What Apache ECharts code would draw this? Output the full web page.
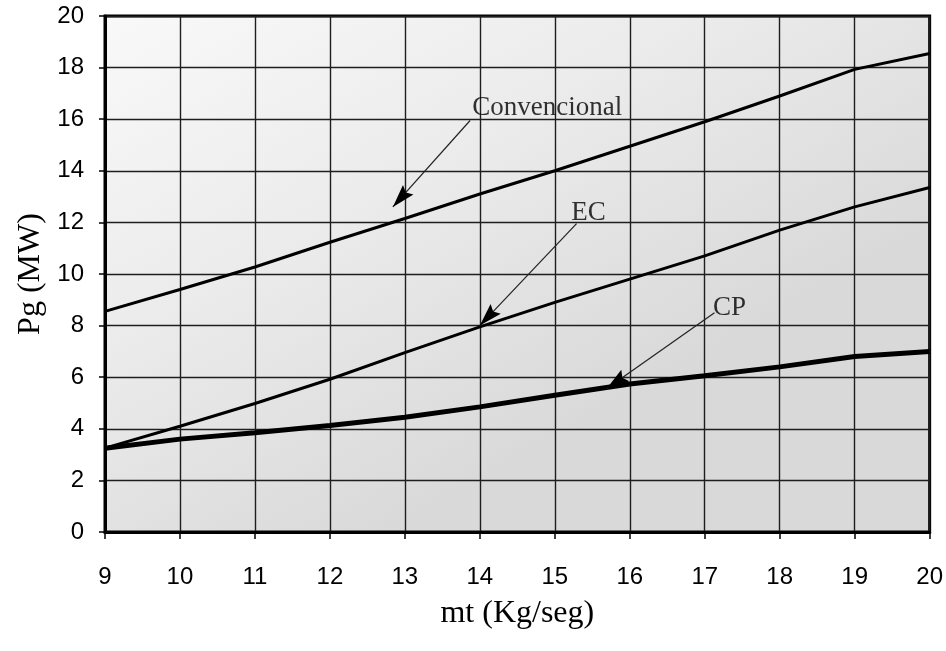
<!DOCTYPE html>
<html>
<head>
<meta charset="utf-8">
<script src="https://cdn.jsdelivr.net/npm/echarts@6/dist/echarts.min.js"></script>
<style>
  html, body { margin: 0; padding: 0; background: #fff; }
  #chart { width: 946px; height: 651px; }
</style>
</head>
<body>
<div id="chart"></div>
<script>
// Mass flow (Kg/seg) on the x axis
const mt = [9, 10, 11, 12, 13, 14, 15, 16, 17, 18, 19, 20];
// Generated power Pg (MW) for each cycle
const convencional = [8.55, 9.4, 10.27, 11.23, 12.15, 13.1, 14.0, 14.95, 15.9, 16.9, 17.93, 18.55];
const ec = [3.25, 4.1, 4.98, 5.92, 6.95, 7.95, 8.9, 9.8, 10.7, 11.7, 12.6, 13.35];
const cp = [3.25, 3.6, 3.85, 4.13, 4.45, 4.85, 5.3, 5.74, 6.06, 6.4, 6.8, 7.0];

// Callout texts, their anchor points and arrow ends (data coordinates)
const calloutNames = ['Convencional', 'EC', 'CP'];
const calloutLabelX = [14.9, 15.45, 17.33];
const calloutLabelY = [16.45, 12.36, 8.7];
const arrowFromX = [13.87, 15.29, 17.13];
const arrowFromY = [15.95, 11.95, 8.5];
const arrowToX = [12.84, 14.0, 15.69];
const arrowToY = [12.6, 8.0, 5.55];

const sansFont = '"Liberation Sans", Arial, sans-serif';
const serifFont = '"Liberation Serif", "Times New Roman", serif';

// Arrowhead: a notched dart pointing up, apex at the top
const HEAD_W = 14, HEAD_H = 23;
const headPath = 'path://M5,0 L10,19 L5,16 L0,19 Z';

function pairs(ys) { return mt.map((x, i) => [x, ys[i]]); }

function shaft(i) {
  return {
    silent: true,
    animation: false,
    symbol: ['none', 'none'],
    label: { show: false },
    lineStyle: { color: '#222', width: 1.2, type: 'solid' },
    emphasis: { disabled: true },
    data: [[
      { coord: [arrowFromX[i], arrowFromY[i]] },
      { coord: [arrowToX[i], arrowToY[i]] }
    ]]
  };
}

function curve(name, ys, width, i) {
  return {
    id: 'curve-' + i,
    name: name,
    type: 'line',
    data: pairs(ys),
    symbol: 'none',
    smooth: false,
    color: '#000',
    lineStyle: { color: '#000', width: width },
    z: 3,
    markLine: shaft(i)
  };
}

const chart = echarts.init(document.getElementById('chart'), null, { renderer: 'canvas' });

chart.setOption({
  animation: false,
  backgroundColor: '#ffffff',
  grid: {
    left: 105, right: 16, top: 16, bottom: 119,
    show: true,
    borderColor: '#000',
    borderWidth: 3,
    backgroundColor: {
      type: 'linear', x: 0, y: 0, x2: 0.35, y2: 1,
      colorStops: [
        { offset: 0, color: '#f9f9f9' },
        { offset: 0.5, color: '#ebebeb' },
        { offset: 1, color: '#d9d9d9' }
      ]
    }
  },
  xAxis: {
    type: 'value',
    min: 9, max: 20, interval: 1,
    name: 'mt (Kg/seg)',
    nameLocation: 'middle',
    nameGap: 66,
    nameTextStyle: { fontFamily: serifFont, fontSize: 32, color: '#000' },
    axisLine: { show: true, onZero: false, lineStyle: { color: '#000', width: 3 } },
    axisTick: { show: true, length: 7, lineStyle: { color: '#000', width: 1.5 } },
    axisLabel: { fontFamily: sansFont, fontSize: 24, color: '#000', margin: 33 },
    splitLine: { show: true, lineStyle: { color: '#1e1e1e', width: 1.4 } }
  },
  yAxis: {
    type: 'value',
    min: 0, max: 20, interval: 2,
    name: 'Pg (MW)',
    nameLocation: 'middle',
    nameGap: 54,
    nameRotate: 90,
    nameTextStyle: { fontFamily: serifFont, fontSize: 32, color: '#000' },
    axisLine: { show: true, onZero: false, lineStyle: { color: '#000', width: 3 } },
    axisTick: { show: true, length: 6, lineStyle: { color: '#000', width: 1.5 } },
    axisLabel: { fontFamily: sansFont, fontSize: 24, color: '#000', margin: 21 },
    splitLine: { show: true, lineStyle: { color: '#1e1e1e', width: 1.4 } }
  },
  series: [
    curve('Convencional', convencional, 3, 0),
    curve('EC', ec, 3, 1),
    curve('CP', cp, 5, 2),
    {
      id: 'callouts',
      name: 'callouts',
      type: 'scatter',
      silent: true,
      symbolSize: 1,
      itemStyle: { color: 'rgba(0,0,0,0)' },
      data: calloutNames.map((n, i) => [calloutLabelX[i], calloutLabelY[i]]),
      label: {
        show: true,
        position: 'inside',
        formatter: (p) => calloutNames[p.dataIndex],
        fontFamily: serifFont,
        fontSize: 27,
        color: '#000'
      },
      z: 5
    },
    {
      id: 'arrowheads',
      name: 'arrowheads',
      type: 'scatter',
      silent: true,
      symbol: headPath,
      symbolSize: [HEAD_W, HEAD_H],
      symbolKeepAspect: false,
      itemStyle: { color: '#000', opacity: 1 },
      data: [],
      z: 6
    }
  ]
});

// Arrowheads: orient each one along its shaft in screen space and
// place it so the apex lands on the arrow's end point.
const heads = calloutNames.map((n, i) => {
  const from = chart.convertToPixel({ gridIndex: 0 }, [arrowFromX[i], arrowFromY[i]]);
  const to = chart.convertToPixel({ gridIndex: 0 }, [arrowToX[i], arrowToY[i]]);
  const dx = to[0] - from[0], dy = to[1] - from[1];
  const len = Math.hypot(dx, dy);
  const ux = dx / len, uy = dy / len;
  const center = [to[0] - ux * HEAD_H / 2, to[1] - uy * HEAD_H / 2];
  const value = chart.convertFromPixel({ gridIndex: 0 }, center);
  const rot = Math.atan2(-dy, dx) * 180 / Math.PI - 90;
  return { value: value, symbolRotate: rot };
});

chart.setOption({ series: [{ id: 'arrowheads', data: heads }] });
</script>
</body>
</html>
